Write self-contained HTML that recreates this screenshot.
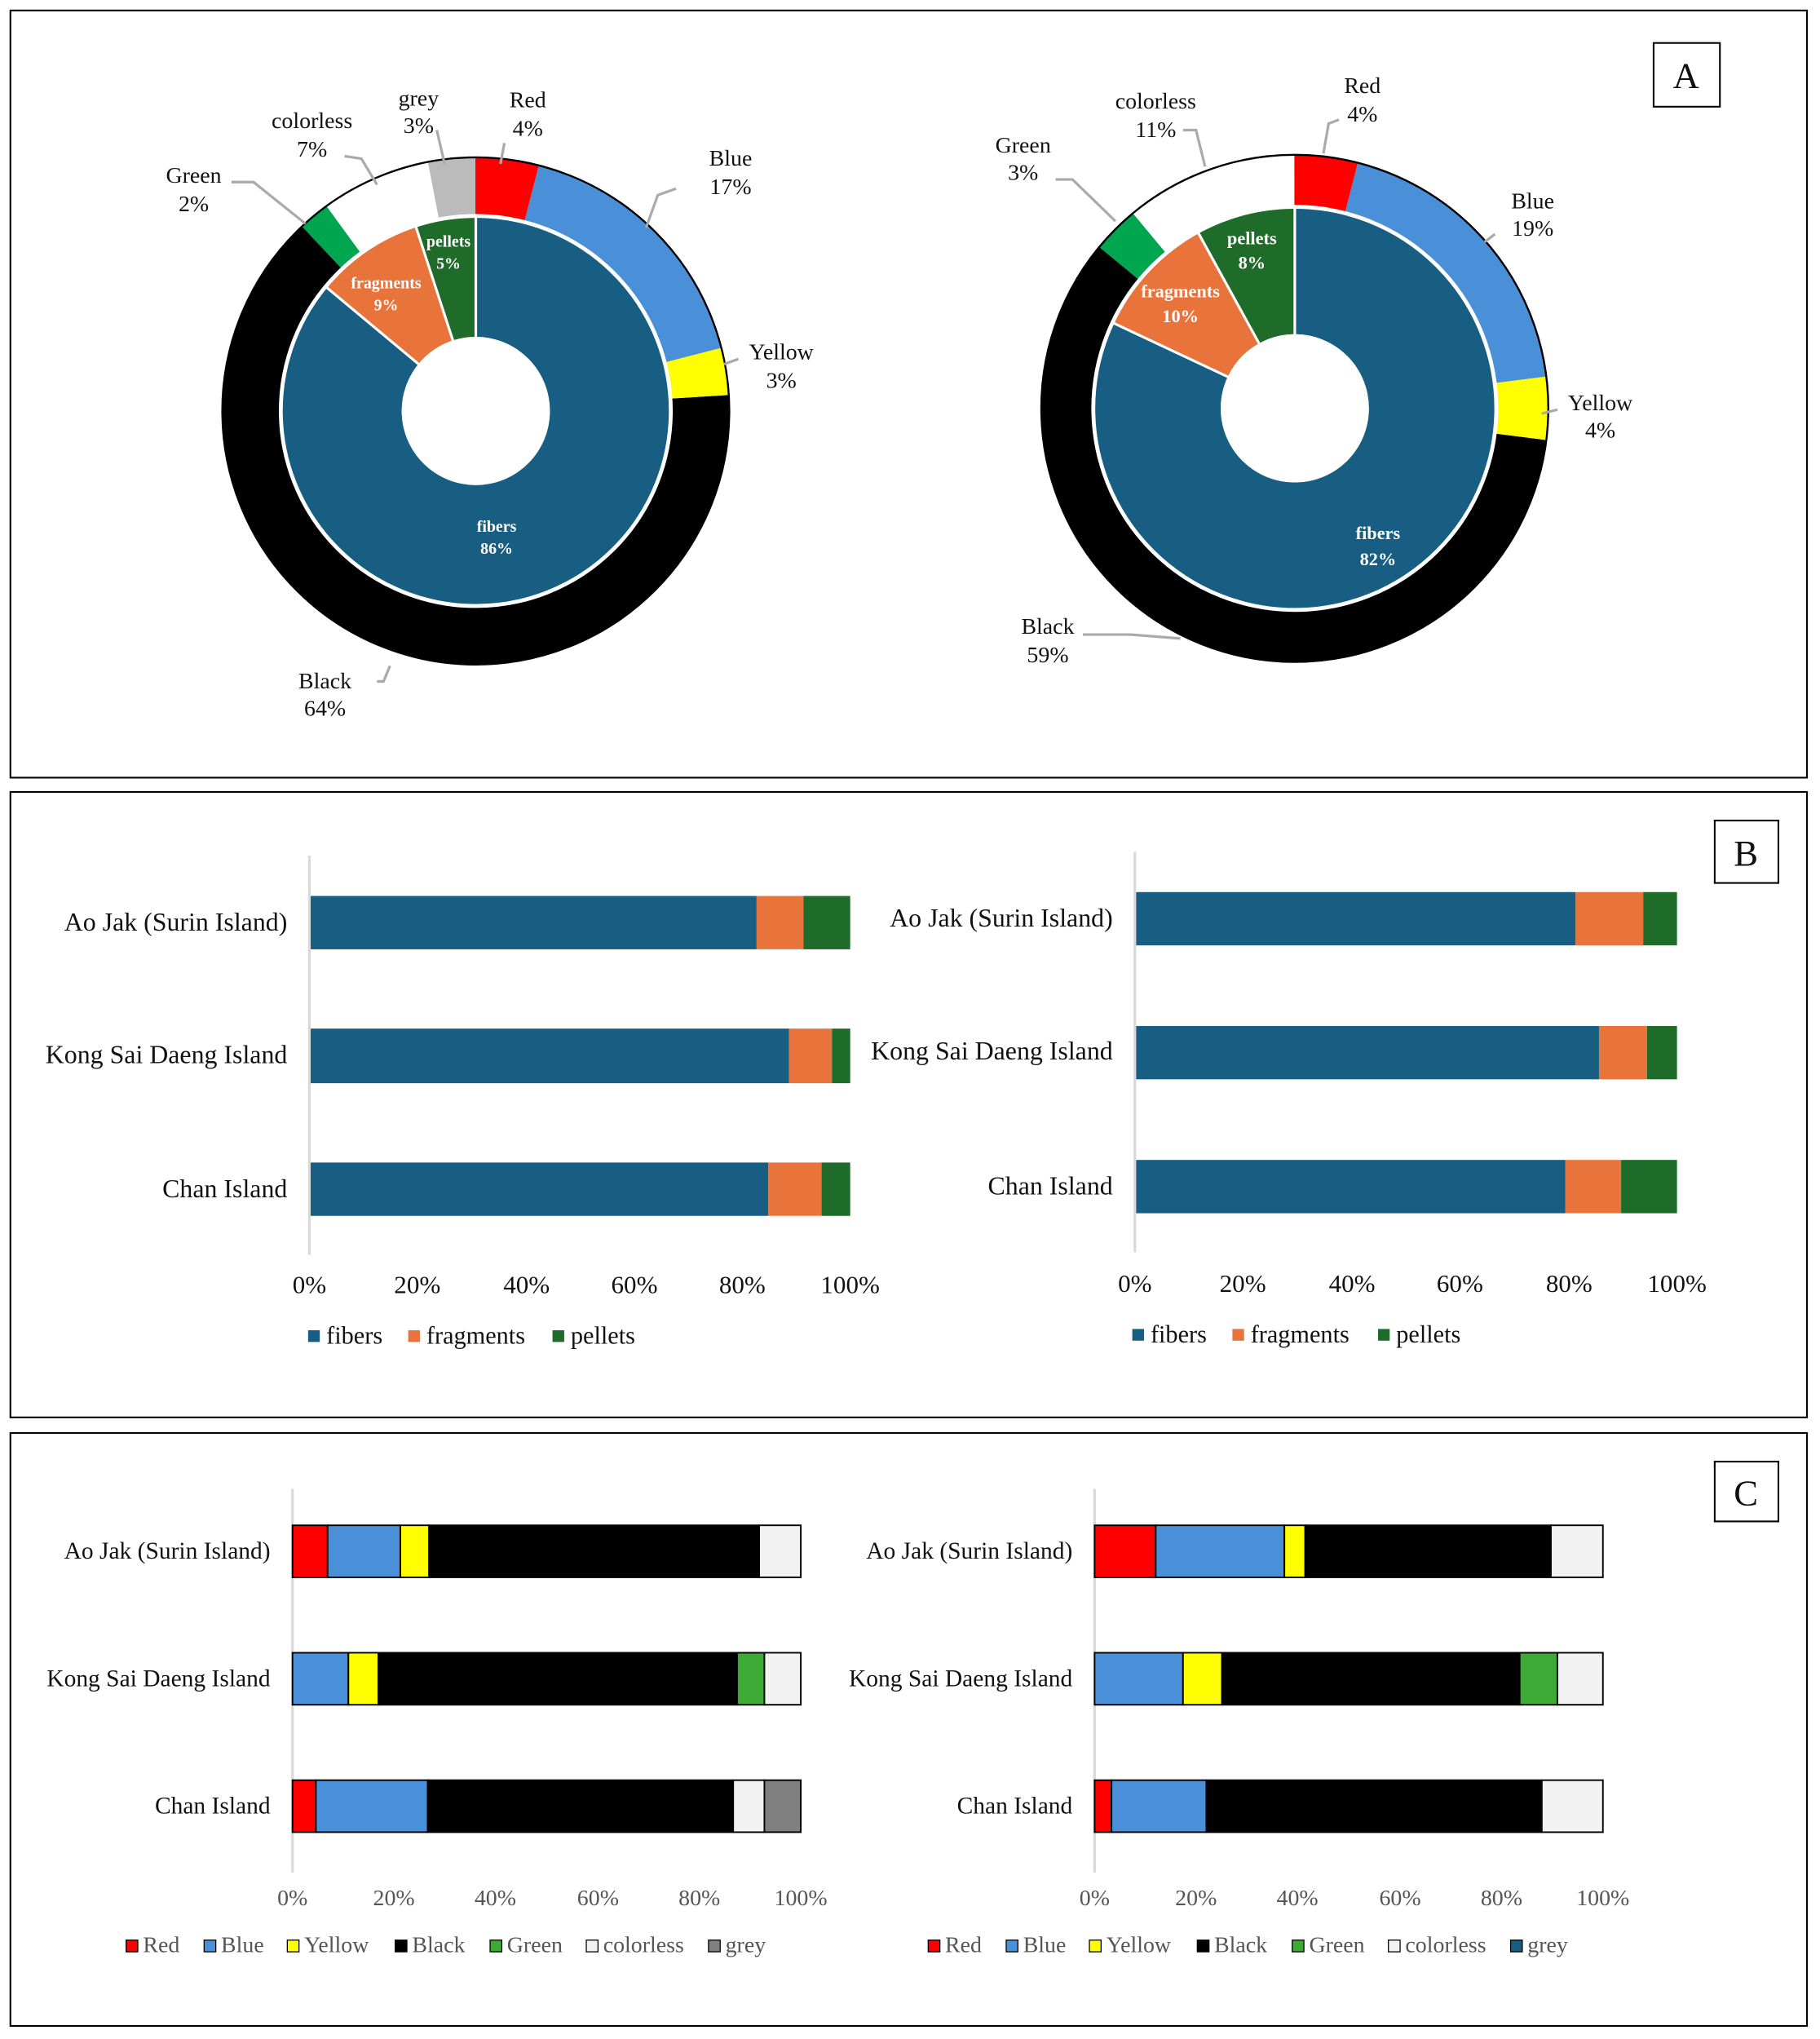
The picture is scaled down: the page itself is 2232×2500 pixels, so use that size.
<!DOCTYPE html>
<html><head><meta charset="utf-8"><style>
html,body{margin:0;padding:0;background:#fff;}
svg{display:block;}
text{font-family:"Liberation Serif",serif;fill:#111;}
.l{font-size:17.5px;text-anchor:middle;dominant-baseline:central;}
.w{font-size:12.5px;font-weight:bold;fill:#fff;text-anchor:middle;dominant-baseline:central;}
.c{font-size:20px;text-anchor:end;dominant-baseline:central;}
.t{font-size:19.5px;text-anchor:middle;dominant-baseline:central;}
.lg{font-size:19px;dominant-baseline:central;}
.c2{font-size:18.5px;text-anchor:end;dominant-baseline:central;}
.t2{font-size:17.5px;text-anchor:middle;dominant-baseline:central;fill:#555;}
.lg2{font-size:17.5px;dominant-baseline:central;fill:#555;}
</style></head><body>
<svg width="2232" height="2500" viewBox="0 0 1400 1568" xmlns="http://www.w3.org/2000/svg">
<rect width="1400" height="1568" fill="#fff"/>
<g fill="none" stroke="#000" stroke-width="1.3">
<rect x="8" y="8" width="1382" height="590"/>
<rect x="8" y="609" width="1382" height="481"/>
<rect x="8" y="1102" width="1382" height="456"/>
<rect x="1272" y="33" width="51" height="49"/>
<rect x="1319" y="631" width="49" height="48"/>
<rect x="1319" y="1124" width="49" height="46"/>
</g>
<text x="1297" y="58" class="t" style="font-size:28px">A</text>
<text x="1343" y="656" class="t" style="font-size:28px">B</text>
<text x="1343" y="1148" class="t" style="font-size:28px">C</text>

<!-- Left donut -->
<g transform="translate(366,316) rotate(-90)" fill="none">
<circle r="172.5" stroke-width="45" stroke="#BBBBBB" pathLength="100" stroke-dasharray="3 97" stroke-dashoffset="-97"/>
<circle r="172.5" stroke-width="45" stroke="#FFFFFF" pathLength="100" stroke-dasharray="7 93" stroke-dashoffset="-90"/>
<circle r="172.5" stroke-width="45" stroke="#00A550" pathLength="100" stroke-dasharray="2 98" stroke-dashoffset="-88"/>
<circle r="172.5" stroke-width="45" stroke="#000" pathLength="100" stroke-dasharray="64 36" stroke-dashoffset="-24"/>
<circle r="172.5" stroke-width="45" stroke="#FFFF00" pathLength="100" stroke-dasharray="3 97" stroke-dashoffset="-21"/>
<circle r="172.5" stroke-width="45" stroke="#4A90D9" pathLength="100" stroke-dasharray="17 83" stroke-dashoffset="-4"/>
<circle r="172.5" stroke-width="45" stroke="#FF0000" pathLength="100" stroke-dasharray="4 96" stroke-dashoffset="0"/>
<circle r="195" stroke="#000" stroke-width="1.5"/>
<circle r="103.5" stroke-width="93" stroke="#1E6B2A" pathLength="100" stroke-dasharray="5 95" stroke-dashoffset="-95"/>
<circle r="103.5" stroke-width="93" stroke="#E8743B" pathLength="100" stroke-dasharray="9 91" stroke-dashoffset="-86"/>
<circle r="103.5" stroke-width="93" stroke="#175E82" pathLength="100" stroke-dasharray="86 14"/>
<circle r="150" stroke="#fff" stroke-width="3"/>
</g>
<g stroke="#fff" stroke-width="2"><line x1="366" y1="316" x2="366" y2="166"/><line x1="322" y1="280" x2="250.5" y2="220.4"/><line x1="348.4" y1="261.8" x2="319.6" y2="173.4"/></g>
<circle cx="366" cy="316" r="57" fill="#fff"/>
<g stroke="#aaa" stroke-width="2" fill="none">
<polyline points="388,110 385,126"/><polyline points="336,100 342,126"/><polyline points="265,120 278,122 290,142"/>
<polyline points="178,140 195,140 235,172"/><polyline points="520,145 506,150 497,175"/><polyline points="568,276 557,280"/>
<polyline points="290,524 295,524 300,512"/>
</g>
<text class="l" x="406" y="77">Red</text><text class="l" x="406" y="99">4%</text>
<text class="l" x="562" y="122">Blue</text><text class="l" x="562" y="144">17%</text>
<text class="l" x="601" y="271">Yellow</text><text class="l" x="601" y="293">3%</text>
<text class="l" x="250" y="524">Black</text><text class="l" x="250" y="545">64%</text>
<text class="l" x="149" y="135">Green</text><text class="l" x="149" y="157">2%</text>
<text class="l" x="240" y="93">colorless</text><text class="l" x="240" y="115">7%</text>
<text class="l" x="322" y="76">grey</text><text class="l" x="322" y="97">3%</text>
<text class="w" x="382" y="405">fibers</text><text class="w" x="382" y="422">86%</text>
<text class="w" x="297" y="218">fragments</text><text class="w" x="297" y="235">9%</text>
<text class="w" x="345" y="186">pellets</text><text class="w" x="345" y="203">5%</text>

<!-- Right donut -->
<g transform="translate(996,314) rotate(-90)" fill="none">
<circle r="175" stroke-width="40" stroke="#FFFFFF" pathLength="100" stroke-dasharray="11 89" stroke-dashoffset="-89"/>
<circle r="175" stroke-width="40" stroke="#00A550" pathLength="100" stroke-dasharray="3 97" stroke-dashoffset="-86"/>
<circle r="175" stroke-width="40" stroke="#000" pathLength="100" stroke-dasharray="59 41" stroke-dashoffset="-27"/>
<circle r="175" stroke-width="40" stroke="#FFFF00" pathLength="100" stroke-dasharray="4 96" stroke-dashoffset="-23"/>
<circle r="175" stroke-width="40" stroke="#4A90D9" pathLength="100" stroke-dasharray="19 81" stroke-dashoffset="-4"/>
<circle r="175" stroke-width="40" stroke="#FF0000" pathLength="100" stroke-dasharray="4 96"/>
<circle r="195" stroke="#000" stroke-width="1.5"/>
<circle r="106" stroke-width="98" stroke="#1E6B2A" pathLength="100" stroke-dasharray="8 92" stroke-dashoffset="-92"/>
<circle r="106" stroke-width="98" stroke="#E8743B" pathLength="100" stroke-dasharray="10 90" stroke-dashoffset="-82"/>
<circle r="106" stroke-width="98" stroke="#175E82" pathLength="100" stroke-dasharray="82 18"/>
<circle r="155" stroke="#fff" stroke-width="3"/>
</g>
<g stroke="#fff" stroke-width="2"><line x1="996" y1="314" x2="996" y2="159"/><line x1="944.4" y1="289.7" x2="855.7" y2="248"/><line x1="968.5" y1="264" x2="921.3" y2="178.2"/></g>
<circle cx="996" cy="314" r="57" fill="#fff"/>
<g stroke="#aaa" stroke-width="2" fill="none">
<polyline points="1030,92 1022,95 1018,118"/><polyline points="910,100 920,100 927,128"/>
<polyline points="812,138 825,138 858,170"/><polyline points="1150,180 1142,186"/><polyline points="1198,315 1186,318"/>
<polyline points="833,488 870,488 908,491"/>
</g>
<text class="l" x="1048" y="66">Red</text><text class="l" x="1048" y="88">4%</text>
<text class="l" x="1179" y="155">Blue</text><text class="l" x="1179" y="176">19%</text>
<text class="l" x="1231" y="310">Yellow</text><text class="l" x="1231" y="331">4%</text>
<text class="l" x="806" y="482">Black</text><text class="l" x="806" y="504">59%</text>
<text class="l" x="787" y="112">Green</text><text class="l" x="787" y="133">3%</text>
<text class="l" x="889" y="78">colorless</text><text class="l" x="889" y="100">11%</text>
<text class="w" x="1060" y="410" style="font-size:14px">fibers</text><text class="w" x="1060" y="430" style="font-size:14px">82%</text>
<text class="w" x="908" y="224" style="font-size:14px">fragments</text><text class="w" x="908" y="243" style="font-size:14px">10%</text>
<text class="w" x="963" y="183" style="font-size:14px">pellets</text><text class="w" x="963" y="202" style="font-size:14px">8%</text>

<!-- Panel B left -->
<line x1="238" y1="658" x2="238" y2="965" stroke="#d9d9d9" stroke-width="2"/>
<rect x="239" y="689" width="343" height="41" fill="#175E82"/><rect x="582" y="689" width="36" height="41" fill="#E8743B"/><rect x="618" y="689" width="36" height="41" fill="#1E6B2A"/>
<rect x="239" y="791" width="368" height="42" fill="#175E82"/><rect x="607" y="791" width="33" height="42" fill="#E8743B"/><rect x="640" y="791" width="14" height="42" fill="#1E6B2A"/>
<rect x="239" y="894" width="352" height="41" fill="#175E82"/><rect x="591" y="894" width="41" height="41" fill="#E8743B"/><rect x="632" y="894" width="22" height="41" fill="#1E6B2A"/>
<text class="c" x="221" y="709">Ao Jak (Surin Island)</text>
<text class="c" x="221" y="811">Kong Sai Daeng Island</text>
<text class="c" x="221" y="914">Chan Island</text>
<text class="t" x="238" y="988">0%</text><text class="t" x="321" y="988">20%</text><text class="t" x="405" y="988">40%</text><text class="t" x="488" y="988">60%</text><text class="t" x="571" y="988">80%</text><text class="t" x="654" y="988">100%</text>
<rect x="237" y="1023" width="9" height="9" fill="#175E82"/><text class="lg" x="251" y="1027">fibers</text>
<rect x="314" y="1023" width="9" height="9" fill="#E8743B"/><text class="lg" x="328" y="1027">fragments</text>
<rect x="425" y="1023" width="9" height="9" fill="#1E6B2A"/><text class="lg" x="439" y="1027">pellets</text>

<!-- Panel B right -->
<line x1="873" y1="655" x2="873" y2="963" stroke="#d9d9d9" stroke-width="2"/>
<rect x="874" y="686" width="338" height="41" fill="#175E82"/><rect x="1212" y="686" width="52" height="41" fill="#E8743B"/><rect x="1264" y="686" width="26" height="41" fill="#1E6B2A"/>
<rect x="874" y="789" width="356" height="41" fill="#175E82"/><rect x="1230" y="789" width="37" height="41" fill="#E8743B"/><rect x="1267" y="789" width="23" height="41" fill="#1E6B2A"/>
<rect x="874" y="892" width="330" height="41" fill="#175E82"/><rect x="1204" y="892" width="43" height="41" fill="#E8743B"/><rect x="1247" y="892" width="43" height="41" fill="#1E6B2A"/>
<text class="c" x="856" y="706">Ao Jak (Surin Island)</text>
<text class="c" x="856" y="808">Kong Sai Daeng Island</text>
<text class="c" x="856" y="912">Chan Island</text>
<text class="t" x="873" y="987">0%</text><text class="t" x="956" y="987">20%</text><text class="t" x="1040" y="987">40%</text><text class="t" x="1123" y="987">60%</text><text class="t" x="1207" y="987">80%</text><text class="t" x="1290" y="987">100%</text>
<rect x="871" y="1022" width="9" height="9" fill="#175E82"/><text class="lg" x="885" y="1026">fibers</text>
<rect x="948" y="1022" width="9" height="9" fill="#E8743B"/><text class="lg" x="962" y="1026">fragments</text>
<rect x="1060" y="1022" width="9" height="9" fill="#1E6B2A"/><text class="lg" x="1074" y="1026">pellets</text>

<!-- Panel C left -->
<line x1="225" y1="1145" x2="225" y2="1440" stroke="#d9d9d9" stroke-width="2"/>
<g stroke="#000" stroke-width="1.2">
<rect x="225" y="1173" width="27" height="40" fill="#FF0000"/><rect x="252" y="1173" width="56" height="40" fill="#4A90D9"/><rect x="308" y="1173" width="22" height="40" fill="#FFFF00"/><rect x="330" y="1173" width="254" height="40" fill="#000"/><rect x="584" y="1173" width="32" height="40" fill="#F2F2F2"/>
<rect x="225" y="1271" width="43" height="40" fill="#4A90D9"/><rect x="268" y="1271" width="23" height="40" fill="#FFFF00"/><rect x="291" y="1271" width="276" height="40" fill="#000"/><rect x="567" y="1271" width="21" height="40" fill="#3DAA35"/><rect x="588" y="1271" width="28" height="40" fill="#F2F2F2"/>
<rect x="225" y="1369" width="18" height="40" fill="#FF0000"/><rect x="243" y="1369" width="86" height="40" fill="#4A90D9"/><rect x="329" y="1369" width="235" height="40" fill="#000"/><rect x="564" y="1369" width="24" height="40" fill="#F2F2F2"/><rect x="588" y="1369" width="28" height="40" fill="#808080"/>
</g>
<text class="c2" x="208" y="1193">Ao Jak (Surin Island)</text>
<text class="c2" x="208" y="1291">Kong Sai Daeng Island</text>
<text class="c2" x="208" y="1389">Chan Island</text>
<text class="t2" x="225" y="1460">0%</text><text class="t2" x="303" y="1460">20%</text><text class="t2" x="381" y="1460">40%</text><text class="t2" x="460" y="1460">60%</text><text class="t2" x="538" y="1460">80%</text><text class="t2" x="616" y="1460">100%</text>
<g stroke="#000" stroke-width="0.8">
<rect x="97" y="1492" width="9" height="9" fill="#FF0000"/><rect x="157" y="1492" width="9" height="9" fill="#4A90D9"/><rect x="221" y="1492" width="9" height="9" fill="#FFFF00"/><rect x="304" y="1492" width="9" height="9" fill="#000"/><rect x="377" y="1492" width="9" height="9" fill="#3DAA35"/><rect x="451" y="1492" width="9" height="9" fill="#F2F2F2"/><rect x="545" y="1492" width="9" height="9" fill="#808080"/>
</g>
<text class="lg2" x="110" y="1496">Red</text><text class="lg2" x="170" y="1496">Blue</text><text class="lg2" x="234" y="1496">Yellow</text><text class="lg2" x="317" y="1496">Black</text><text class="lg2" x="390" y="1496">Green</text><text class="lg2" x="464" y="1496">colorless</text><text class="lg2" x="558" y="1496">grey</text>

<!-- Panel C right -->
<line x1="842" y1="1145" x2="842" y2="1440" stroke="#d9d9d9" stroke-width="2"/>
<g stroke="#000" stroke-width="1.2">
<rect x="842" y="1173" width="47" height="40" fill="#FF0000"/><rect x="889" y="1173" width="99" height="40" fill="#4A90D9"/><rect x="988" y="1173" width="16" height="40" fill="#FFFF00"/><rect x="1004" y="1173" width="189" height="40" fill="#000"/><rect x="1193" y="1173" width="40" height="40" fill="#F2F2F2"/>
<rect x="842" y="1271" width="68" height="40" fill="#4A90D9"/><rect x="910" y="1271" width="30" height="40" fill="#FFFF00"/><rect x="940" y="1271" width="229" height="40" fill="#000"/><rect x="1169" y="1271" width="29" height="40" fill="#3DAA35"/><rect x="1198" y="1271" width="35" height="40" fill="#F2F2F2"/>
<rect x="842" y="1369" width="13" height="40" fill="#FF0000"/><rect x="855" y="1369" width="73" height="40" fill="#4A90D9"/><rect x="928" y="1369" width="258" height="40" fill="#000"/><rect x="1186" y="1369" width="47" height="40" fill="#F2F2F2"/>
</g>
<text class="c2" x="825" y="1193">Ao Jak (Surin Island)</text>
<text class="c2" x="825" y="1291">Kong Sai Daeng Island</text>
<text class="c2" x="825" y="1389">Chan Island</text>
<text class="t2" x="842" y="1460">0%</text><text class="t2" x="920" y="1460">20%</text><text class="t2" x="998" y="1460">40%</text><text class="t2" x="1077" y="1460">60%</text><text class="t2" x="1155" y="1460">80%</text><text class="t2" x="1233" y="1460">100%</text>
<g stroke="#000" stroke-width="0.8">
<rect x="714" y="1492" width="9" height="9" fill="#FF0000"/><rect x="774" y="1492" width="9" height="9" fill="#4A90D9"/><rect x="838" y="1492" width="9" height="9" fill="#FFFF00"/><rect x="921" y="1492" width="9" height="9" fill="#000"/><rect x="994" y="1492" width="9" height="9" fill="#3DAA35"/><rect x="1068" y="1492" width="9" height="9" fill="#F2F2F2"/><rect x="1162" y="1492" width="9" height="9" fill="#175E82"/>
</g>
<text class="lg2" x="727" y="1496">Red</text><text class="lg2" x="787" y="1496">Blue</text><text class="lg2" x="851" y="1496">Yellow</text><text class="lg2" x="934" y="1496">Black</text><text class="lg2" x="1007" y="1496">Green</text><text class="lg2" x="1081" y="1496">colorless</text><text class="lg2" x="1175" y="1496">grey</text>
</svg>
</body></html>
